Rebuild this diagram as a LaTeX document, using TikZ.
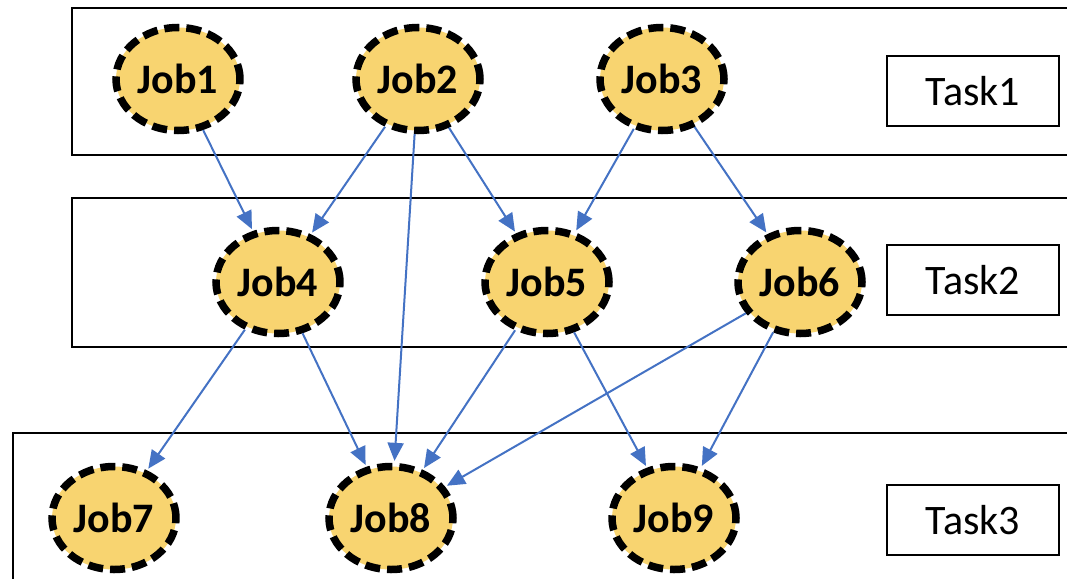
\documentclass[tikz,border=0pt]{standalone}
\usepackage{fontspec}
\setmainfont{Carlito}
\usetikzlibrary{shapes.geometric,arrows.meta}
\definecolor{jobfill}{HTML}{F8D470}
\definecolor{arrowblue}{HTML}{4472C4}
\tikzset{
  job/.style={ellipse, draw=black, fill=jobfill, line width=7.5pt,
    dash pattern=on 15pt off 7pt, minimum width=124pt, minimum height=103pt,
    inner sep=0pt, font=\fontsize{42}{48}\selectfont\bfseries},
  tasklabel/.style={draw=black, line width=1.5pt, minimum width=172pt,
    minimum height=70pt, inner sep=0pt, font=\fontsize{42}{48}\selectfont},
  group/.style={draw=black, line width=1.6pt},
  dep/.style={draw=arrowblue, line width=2pt,
    -{Triangle[length=18pt,width=16pt]}, shorten >=2pt}
}
\begin{document}
\begin{tikzpicture}[x=1pt,y=-1pt]
\useasboundingbox (0,0) rectangle (1067,578);
\clip (0,0) rectangle (1067,578);
\fill[white] (0,0) rectangle (1067,578);
% group boxes
\draw[group] (72,8) rectangle (1090,155);
\draw[group] (72,198) rectangle (1090,347);
\draw[group] (13,433) rectangle (1090,600);
% task labels
\node[tasklabel] (t1) at (973,91) {Task1};
\node[tasklabel] (t2) at (973,280) {Task2};
\node[tasklabel] (t3) at (973,520) {Task3};
% jobs
\node[job] (j1) at (178,79) {Job1};
\node[job] (j2) at (418,79) {Job2};
\node[job] (j3) at (662,79) {Job3};
\node[job] (j4) at (278,282) {Job4};
\node[job] (j5) at (547,282) {Job5};
\node[job] (j6) at (800,282) {Job6};
\node[job] (j7) at (114,518) {Job7};
\node[job] (j8) at (391,518) {Job8};
\node[job] (j9) at (674,518) {Job9};
% dependencies
\draw[dep] (j1) -- (j4);
\draw[dep] (j2) -- (j4);
\draw[dep] (j2) -- (j8);
\draw[dep] (j2) -- (j5);
\draw[dep] (j3) -- (j5);
\draw[dep] (j3) -- (j6);
\draw[dep] (j4) -- (j7);
\draw[dep] (j4) -- (j8);
\draw[dep] (j5) -- (j8);
\draw[dep] (j5) -- (j9);
\draw[dep] (j6) -- (j8);
\draw[dep] (j6) -- (j9);
\end{tikzpicture}
\end{document}
